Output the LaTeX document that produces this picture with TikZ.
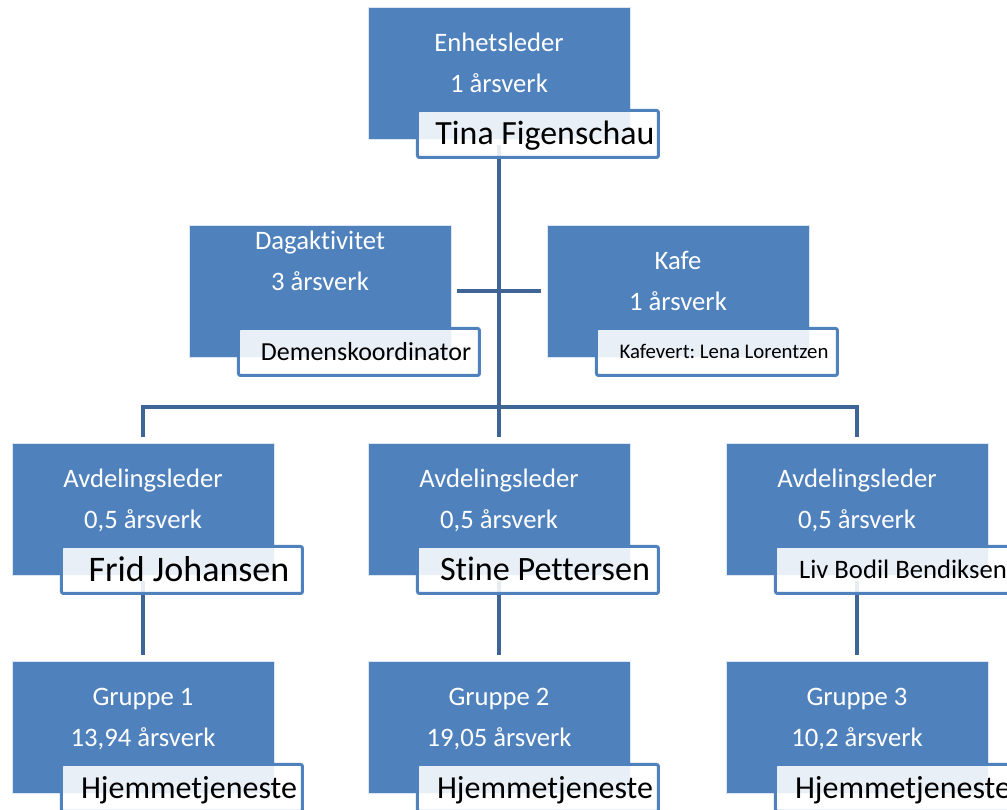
\documentclass[tikz,border=0pt]{standalone}
\usepackage{fontspec}
\setmainfont{Carlito}[Ligatures=NoCommon]
\usepackage{tikz}
\usetikzlibrary{positioning, backgrounds}
\definecolor{boks}{HTML}{4F81BD}
\definecolor{strek}{HTML}{3E6596}
\tikzset{
  enhet/.style={rectangle, fill=boks, draw=white!80!boks, line width=0.4pt,
                minimum width=196.5pt, minimum height=99pt, inner sep=0pt,
                outer sep=0pt, anchor=north west},
  tekst/.style={text=white, align=center, inner sep=0pt, anchor=base,
                font=\fontsize{20}{30.75}\selectfont},
  navn/.style={rectangle, rounded corners=1.5pt, draw=boks, line width=2.25pt,
               fill=white, fill opacity=0.88, text opacity=1, text=black,
               minimum width=180.75pt, minimum height=35.25pt, inner sep=0pt,
               outer sep=0pt, font=\fontsize{#1}{#1}\selectfont,
               text height=0.63*#1pt, text depth=0pt,
               anchor=north west, execute at begin node={\hspace*{10.5pt}}},
  linje/.style={draw=strek, line width=3.6pt, shorten <=4.5pt, shorten >=4.5pt},
}
\frenchspacing

\begin{document}
\begin{tikzpicture}[x=0.75pt, y=0.75pt]
  \useasboundingbox (0,0) rectangle (1007,-810);
  \clip (0,0) rectangle (1007,-810);

  \node[enhet] (enh) at (368,-7) {};
  \node[enhet] (dag) at (189,-225) {};
  \node[enhet] (kafe) at (547,-225) {};
  \node[enhet] (avd1) at (12,-443) {};
  \node[enhet] (avd2) at (368,-443) {};
  \node[enhet] (avd3) at (726,-443) {};
  \node[enhet] (grp1) at (12,-661) {};
  \node[enhet] (grp2) at (368,-661) {};
  \node[enhet] (grp3) at (726,-661) {};

  \node[tekst] (enhT) at ([yshift=-63.75pt]enh.north) {Enhetsleder\\1 årsverk};
  \node[tekst] (dagT) at ([yshift=-48.75pt]dag.north) {Dagaktivitet\\3 årsverk};
  \node[tekst] (kafeT) at ([yshift=-63.75pt]kafe.north) {Kafe\\1 årsverk};
  \node[tekst] (avd1T) at ([yshift=-63.75pt]avd1.north) {Avdelingsleder\\0,5 årsverk};
  \node[tekst] (avd2T) at ([yshift=-63.75pt]avd2.north) {Avdelingsleder\\0,5 årsverk};
  \node[tekst] (avd3T) at ([yshift=-63.75pt]avd3.north) {Avdelingsleder\\0,5 årsverk};
  \node[tekst] (grp1T) at ([yshift=-63.75pt]grp1.north) {Gruppe 1\\13,94 årsverk};
  \node[tekst] (grp2T) at ([yshift=-63.75pt]grp2.north) {Gruppe 2\\19,05 årsverk};
  \node[tekst] (grp3T) at ([yshift=-63.75pt]grp3.north) {Gruppe 3\\10,2 årsverk};

  \node[navn=25.4] (enhN) at ([xshift=37.1pt, yshift=21.4pt]enh.south west) {Tina Figenschau};
  \node[navn=19.5] (dagN) at ([xshift=37.1pt, yshift=21.4pt]dag.south west) {Demenskoordinator};
  \node[navn=15.6] (kafeN) at ([xshift=37.1pt, yshift=21.4pt]kafe.south west) {Kafevert: Lena Lorentzen};
  \node[navn=27] (avd1N) at ([xshift=37.1pt, yshift=21.4pt]avd1.south west) {Frid Johansen};
  \node[navn=25.6] (avd2N) at ([xshift=37.1pt, yshift=21.4pt]avd2.south west) {Stine Pettersen};
  \node[navn=20] (avd3N) at ([xshift=37.1pt, yshift=21.4pt]avd3.south west) {Liv Bodil Bendiksen};
  \node[navn=24] (grp1N) at ([xshift=37.1pt, yshift=21.4pt]grp1.south west) {Hjemmetjeneste};
  \node[navn=24] (grp2N) at ([xshift=37.1pt, yshift=21.4pt]grp2.south west) {Hjemmetjeneste};
  \node[navn=24] (grp3N) at ([xshift=37.1pt, yshift=21.4pt]grp3.south west) {Hjemmetjeneste};

  \coordinate (buss) at (499,-407);

  \begin{pgfonlayer}{background}
    \draw[linje] (enh) -- (avd2);
    \draw[linje] (dag) -- (kafe);
    \draw[linje] (avd1) |- (buss) -| (avd3);
    \draw[linje] (avd1) -- (grp1);
    \draw[linje] (avd2) -- (grp2);
    \draw[linje] (avd3) -- (grp3);
  \end{pgfonlayer}
\end{tikzpicture}
\end{document}
